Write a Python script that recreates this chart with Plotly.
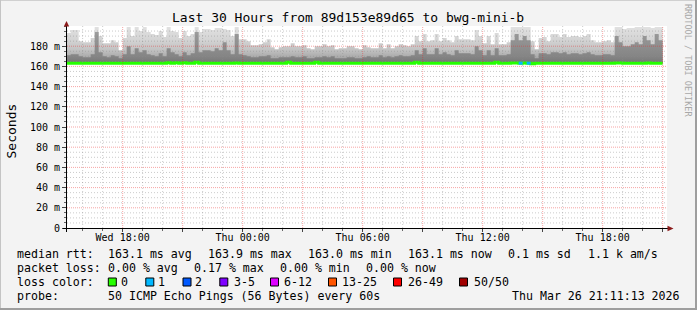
import plotly.graph_objects as go
from datetime import datetime, timedelta

# ---------------- data ----------------
title_text = "Last 30 Hours from 89d153e89d65 to bwg-mini-b"
bin_start = datetime(2026, 3, 25, 15, 12)
bin_minutes = 12
view_start = datetime(2026, 3, 25, 15, 13)
view_end = datetime(2026, 3, 26, 21, 13)

# top of smoke (max rtt, ms) per 12-min bin
rtt_max = [
    193, 196, 196, 185, 184, 184, 188, 199, 190, 183,
    183, 186, 184, 176, 188, 199, 190, 199, 195, 199,
    194, 192, 191, 195, 189, 199, 195, 194, 188, 195,
    190, 192, 199, 194, 197, 197, 196, 198, 198, 197,
    196, 190, 199, 187, 187, 185, 181, 181, 182, 184,
    187, 179, 177, 179, 180, 180, 183, 180, 180, 181,
    178, 177, 180, 180, 182, 180, 181, 177, 178, 178,
    180, 180, 178, 177, 181, 179, 178, 178, 183, 178,
    182, 178, 180, 182, 181, 180, 182, 190, 185, 192,
    185, 186, 192, 185, 188, 186, 184, 190, 187, 187,
    187, 186, 196, 190, 183, 190, 182, 193, 182, 182,
    184, 199, 199, 199, 199, 199, 185, 177, 188, 189,
    185, 192, 192, 189, 192, 189, 190, 190, 189, 190,
    192, 186, 184, 184, 185, 186, 184, 199, 199, 197,
    198, 198, 199, 199, 199, 199, 198, 199, 199,
]

# upper edge of the dense (dark) part of the smoke, ms
rtt_dense = [
    171, 172, 172, 170, 169, 169, 172, 194, 174, 170,
    169, 171, 170, 168, 172, 180, 172, 178, 174, 176,
    172, 171, 170, 173, 170, 178, 174, 172, 170, 174,
    171, 173, 194, 174, 176, 176, 175, 178, 176, 184,
    176, 172, 192, 172, 171, 170, 169, 169, 170, 170,
    171, 168, 168, 169, 169, 169, 170, 169, 169, 170,
    168, 168, 169, 169, 170, 169, 170, 168, 168, 168,
    169, 169, 168, 168, 169, 170, 169, 169, 171, 169,
    170, 169, 170, 171, 170, 170, 171, 176, 172, 178,
    172, 172, 178, 172, 174, 172, 171, 176, 173, 173,
    173, 172, 180, 176, 171, 176, 171, 178, 171, 171,
    172, 186, 192, 186, 190, 186, 172, 168, 173, 173,
    172, 174, 174, 173, 174, 172, 173, 173, 172, 173,
    174, 172, 171, 171, 172, 172, 171, 190, 184, 180,
    180, 182, 184, 182, 190, 186, 182, 192, 186,
]

# median rtt, ms
rtt_median = [
    163.1, 163.1, 163.0, 163.1, 163.1, 163.0, 163.1, 163.2, 163.1, 163.0,
    163.1, 163.1, 163.0, 163.1, 163.1, 163.2, 163.1, 163.1, 163.0, 163.1,
    163.1, 163.0, 163.1, 163.1, 163.1, 163.6, 163.1, 163.6, 163.1, 163.6,
    163.1, 163.1, 164.0, 163.1, 163.2, 163.1, 163.1, 163.1, 163.0, 163.1,
    163.1, 163.1, 163.3, 163.1, 163.0, 163.1, 163.1, 163.1, 163.0, 163.1,
    163.1, 163.1, 163.0, 163.1, 163.1, 164.0, 163.1, 163.1, 163.0, 163.1,
    163.1, 163.0, 164.0, 163.1, 163.1, 163.1, 163.0, 163.1, 163.1, 163.1,
    163.0, 163.1, 163.1, 163.1, 163.0, 163.1, 163.1, 163.1, 163.1, 163.0,
    163.1, 163.1, 163.1, 163.0, 163.1, 163.1, 163.1, 164.0, 163.1, 163.1,
    163.1, 163.0, 163.1, 163.1, 163.1, 163.1, 163.0, 163.1, 163.1, 163.1,
    163.1, 163.1, 163.1, 163.1, 163.0, 163.1, 163.1, 164.0, 163.1, 163.1,
    163.1, 163.3, 163.4, 163.2, 163.4, 163.2, 162.6, 163.1, 163.1, 163.0,
    163.1, 163.1, 163.1, 163.0, 163.1, 163.1, 163.1, 163.1, 163.0, 163.1,
    163.1, 163.1, 163.0, 163.1, 163.1, 163.1, 163.1, 163.4, 163.3, 163.1,
    163.1, 163.1, 163.2, 163.1, 163.1, 163.3, 163.1, 163.2, 163.1,
]

# lost pings (of 50) per bin
loss = [
    0, 0, 0, 0, 0, 0, 0, 0, 0, 0,
    0, 0, 0, 0, 0, 0, 0, 0, 0, 0,
    0, 0, 0, 0, 0, 0, 0, 0, 0, 0,
    0, 0, 0, 0, 0, 0, 0, 0, 0, 0,
    0, 0, 0, 0, 0, 0, 0, 0, 0, 0,
    0, 0, 0, 0, 0, 0, 0, 0, 0, 0,
    0, 0, 0, 0, 0, 0, 0, 0, 0, 0,
    0, 0, 0, 0, 0, 0, 0, 0, 0, 0,
    0, 0, 0, 0, 0, 0, 0, 0, 0, 0,
    0, 0, 0, 0, 0, 0, 0, 0, 0, 0,
    0, 0, 0, 0, 0, 0, 0, 0, 0, 0,
    0, 0, 0, 1, 0, 1, 0, 0, 0, 0,
    0, 0, 0, 0, 0, 0, 0, 0, 0, 0,
    0, 0, 0, 0, 0, 0, 0, 0, 0, 0,
    0, 0, 0, 0, 0, 0, 0, 0, 0,
]

y_tick_values = [0, 20, 40, 60, 80, 100, 120, 140, 160, 180]
y_tick_labels = ["0", "20 m", "40 m", "60 m", "80 m", "100 m", "120 m", "140 m", "160 m", "180 m"]
x_tick_values = [datetime(2026, 3, 25, 18) + timedelta(hours=3 * i) for i in range(10)]
x_tick_labels = ["Wed 18:00", "", "Thu 00:00", "", "Thu 06:00", "", "Thu 12:00", "", "Thu 18:00", ""]

loss_labels = ["0", "1", "2", "3-5", "6-12", "13-25", "26-49", "50/50"]
loss_colors = ["#26ff00", "#00b8ff", "#0059ff", "#7e00ff", "#dd00ff", "#ff5500", "#ff0000", "#a10000"]

stats_rtt = ["163.1 ms avg", "163.9 ms max", "163.0 ms min", "163.1 ms now", "0.1 ms sd", "1.1 k am/s"]
stats_loss = ["0.00 % avg", "0.17 % max", "0.00 % min", "0.00 % now"]
probe_text = "50 ICMP Echo Pings (56 Bytes) every 60s"
stamp_text = "Thu Mar 26 21:11:13 2026"

# ---------------- geometry helpers ----------------
W, H = 697, 310
ML, MR, MT, MB = 67, 30, 26, 82
PW, PH = W - ML - MR, H - MT - MB
FONT = "DejaVu Sans Mono"
GRID_MINOR = "rgba(140,140,140,0.45)"
GRID_MAJOR = "rgba(235,40,40,0.42)"


def px(x):
    return (x - ML) / PW


def py(y):
    return (H - MB - y) / PH


def loss_group(k):
    if k == 0:
        return 0
    if k == 1:
        return 1
    if k == 2:
        return 2
    if k <= 5:
        return 3
    if k <= 12:
        return 4
    if k <= 25:
        return 5
    if k < 50:
        return 6
    return 7


n = len(rtt_max)
edges = [bin_start + timedelta(minutes=bin_minutes * i) for i in range(n + 1)]

fig = go.Figure()

# smoke: outer (median -> max)
fig.add_trace(go.Scatter(x=edges, y=rtt_median + [rtt_median[-1]], mode="lines",
                         line=dict(width=0, shape="hv"), hoverinfo="skip", showlegend=False))
fig.add_trace(go.Scatter(x=edges, y=rtt_max + [rtt_max[-1]], mode="lines",
                         line=dict(width=0, shape="hv"), fill="tonexty",
                         fillgradient=dict(type="vertical", start=162, stop=200,
                                           colorscale=[[0, "#8a8a8a"], [0.16, "#a8a8a8"],
                                                       [0.37, "#c2c2c2"], [0.63, "#d4d4d4"],
                                                       [1, "#e2e2e2"]]),
                         hoverinfo="skip", showlegend=False))
# smoke: dense part (median -> dense)
fig.add_trace(go.Scatter(x=edges, y=rtt_median + [rtt_median[-1]], mode="lines",
                         line=dict(width=0, shape="hv"), hoverinfo="skip", showlegend=False))
fig.add_trace(go.Scatter(x=edges, y=rtt_dense + [rtt_dense[-1]], mode="lines",
                         line=dict(width=0, shape="hv"), fill="tonexty",
                         fillgradient=dict(type="vertical", start=162, stop=200,
                                           colorscale=[[0, "#747474"], [0.2, "#858585"],
                                                       [0.7, "#969696"], [1, "#a6a6a6"]]),
                         hoverinfo="skip", showlegend=False))

# median line coloured by loss
fig.add_trace(go.Scatter(x=edges, y=rtt_median + [rtt_median[-1]], mode="lines",
                         line=dict(width=3, shape="hv", color=loss_colors[0]),
                         hoverinfo="skip", showlegend=False))
for g in range(1, len(loss_colors)):
    xs, ys = [], []
    for i in range(n):
        if loss_group(loss[i]) == g:
            xs += [edges[i], edges[i + 1], None]
            ys += [rtt_median[i], rtt_median[i], None]
    if xs:
        fig.add_trace(go.Scatter(x=xs, y=ys, mode="lines",
                                 line=dict(width=3, color=loss_colors[g]),
                                 hoverinfo="skip", showlegend=False))

shapes = []
# grid (drawn above smoke like rrdtool, semi-transparent)
t = datetime(2026, 3, 25, 16)
while t <= view_end:
    major = (t.hour % 3 == 0)
    shapes.append(dict(type="line", xref="x", yref="paper", x0=t, x1=t, y0=0, y1=1,
                       layer="above",
                       line=dict(color=GRID_MAJOR if major else GRID_MINOR, width=1,
                                 dash="1px,1px" if major else "1px,2px")))
    t += timedelta(hours=1)
for v in range(5, 200, 5):
    major = (v % 20 == 0)
    shapes.append(dict(type="line", xref="paper", yref="y", x0=0, x1=1, y0=v, y1=v,
                       layer="above",
                       line=dict(color=GRID_MAJOR if major else GRID_MINOR, width=1,
                                 dash="1px,1px" if major else "1px,2px")))

# axis lines + arrows
shapes.append(dict(type="line", xref="paper", yref="paper", x0=px(63), x1=px(668),
                   y0=py(228.5), y1=py(228.5), line=dict(color="#000000", width=1), layer="above"))
shapes.append(dict(type="line", xref="paper", yref="paper", x0=px(66.5), x1=px(66.5),
                   y0=py(232), y1=py(24), line=dict(color="#000000", width=1), layer="above"))
shapes.append(dict(type="path", xref="paper", yref="paper", layer="above",
                   path=f"M {px(63.8)},{py(26.5)} L {px(69.2)},{py(26.5)} L {px(66.5)},{py(21)} Z",
                   fillcolor="#8b1a1a", line=dict(width=0)))
shapes.append(dict(type="path", xref="paper", yref="paper", layer="above",
                   path=f"M {px(667.5)},{py(225.8)} L {px(667.5)},{py(231.2)} L {px(673.5)},{py(228.5)} Z",
                   fillcolor="#8b1a1a", line=dict(width=0)))

# frame shading
shapes.append(dict(type="line", xref="paper", yref="paper", x0=px(0), x1=px(W), y0=py(0.5), y1=py(0.5),
                   line=dict(color="#d0d0d0", width=1)))
shapes.append(dict(type="line", xref="paper", yref="paper", x0=px(0.5), x1=px(0.5), y0=py(0), y1=py(H),
                   line=dict(color="#c4c4c4", width=1)))
shapes.append(dict(type="line", xref="paper", yref="paper", x0=px(0), x1=px(W), y0=py(H - 1), y1=py(H - 1),
                   line=dict(color="#9e9e9e", width=2)))
shapes.append(dict(type="line", xref="paper", yref="paper", x0=px(W - 1), x1=px(W - 1), y0=py(0), y1=py(H),
                   line=dict(color="#9e9e9e", width=2)))

annotations = []


def text(x, y, s, size=11.6, anchor="left", color="#000000", angle=0):
    annotations.append(dict(x=px(x), y=py(y), xref="paper", yref="paper", text=s, showarrow=False,
                            xanchor=anchor, yanchor="middle", textangle=angle, borderpad=0,
                            font=dict(family=FONT, size=size, color=color)))


text(347.5, 18, title_text, size=13, anchor="center")
text(10.5, 131, "Seconds", size=13, anchor="center", angle=-90)
text(688, 60, "RRDTOOL / TOBI OETIKER", size=8.5, anchor="center", color="#a8a8a8", angle=90)

row_y = [254, 268.3, 282, 296]
text(16, row_y[0], "median rtt:")
for xpos, s in zip([107.3, 207.3, 307.3, 407.3, 507.3, 586.7], stats_rtt):
    text(xpos, row_y[0], s)
text(16, row_y[1], "packet loss:")
for xpos, s in zip([107.3, 193.3, 279.3, 365.3], stats_loss):
    text(xpos, row_y[1], s)
text(16, row_y[2], "loss color:")
box_x = [108.3, 145.8, 183, 219.8, 270.5, 328.5, 393.5, 459.5]
lab_x = [120, 157.3, 194.3, 232.5, 283.2, 341.2, 406.5, 472.5]
for bx, lx, lab, col in zip(box_x, lab_x, loss_labels, loss_colors):
    shapes.append(dict(type="rect", xref="paper", yref="paper", x0=px(bx), x1=px(bx + 8),
                       y0=py(278), y1=py(286), fillcolor=col, line=dict(color="#000000", width=1)))
    text(lx, row_y[2], lab)
text(16, row_y[3], "probe:")
text(107.3, row_y[3], probe_text)
text(680.5, row_y[3], stamp_text, anchor="right")

fig.update_layout(
    width=W, height=H, autosize=False,
    margin=dict(l=ML, r=MR, t=MT, b=MB, pad=0),
    paper_bgcolor="#f3f3f3", plot_bgcolor="#ffffff",
    showlegend=False,
    shapes=shapes, annotations=annotations,
    font=dict(family=FONT, size=10, color="#000000"),
    xaxis=dict(type="date", range=[view_start, view_end], showgrid=False, zeroline=False,
               showline=False, tickvals=x_tick_values, ticktext=x_tick_labels,
               ticks="outside", ticklen=3, tickcolor="#444444", ticklabelstandoff=-3,
               tickfont=dict(family=FONT, size=10, color="#000000"),
               minor=dict(ticks="outside", ticklen=2, dtick=3600000,
                          tick0="2026-03-25 00:00", tickcolor="#666666", showgrid=False),
               fixedrange=True),
    yaxis=dict(range=[0, 200], showgrid=False, zeroline=False, showline=False,
               tickvals=y_tick_values, ticktext=y_tick_labels,
               ticks="outside", ticklen=4, tickcolor="#444444",
               tickfont=dict(family=FONT, size=10, color="#000000"),
               minor=dict(ticks="outside", ticklen=2, dtick=5, tickcolor="#666666", showgrid=False),
               fixedrange=True),
)

fig.write_html("out.html")
